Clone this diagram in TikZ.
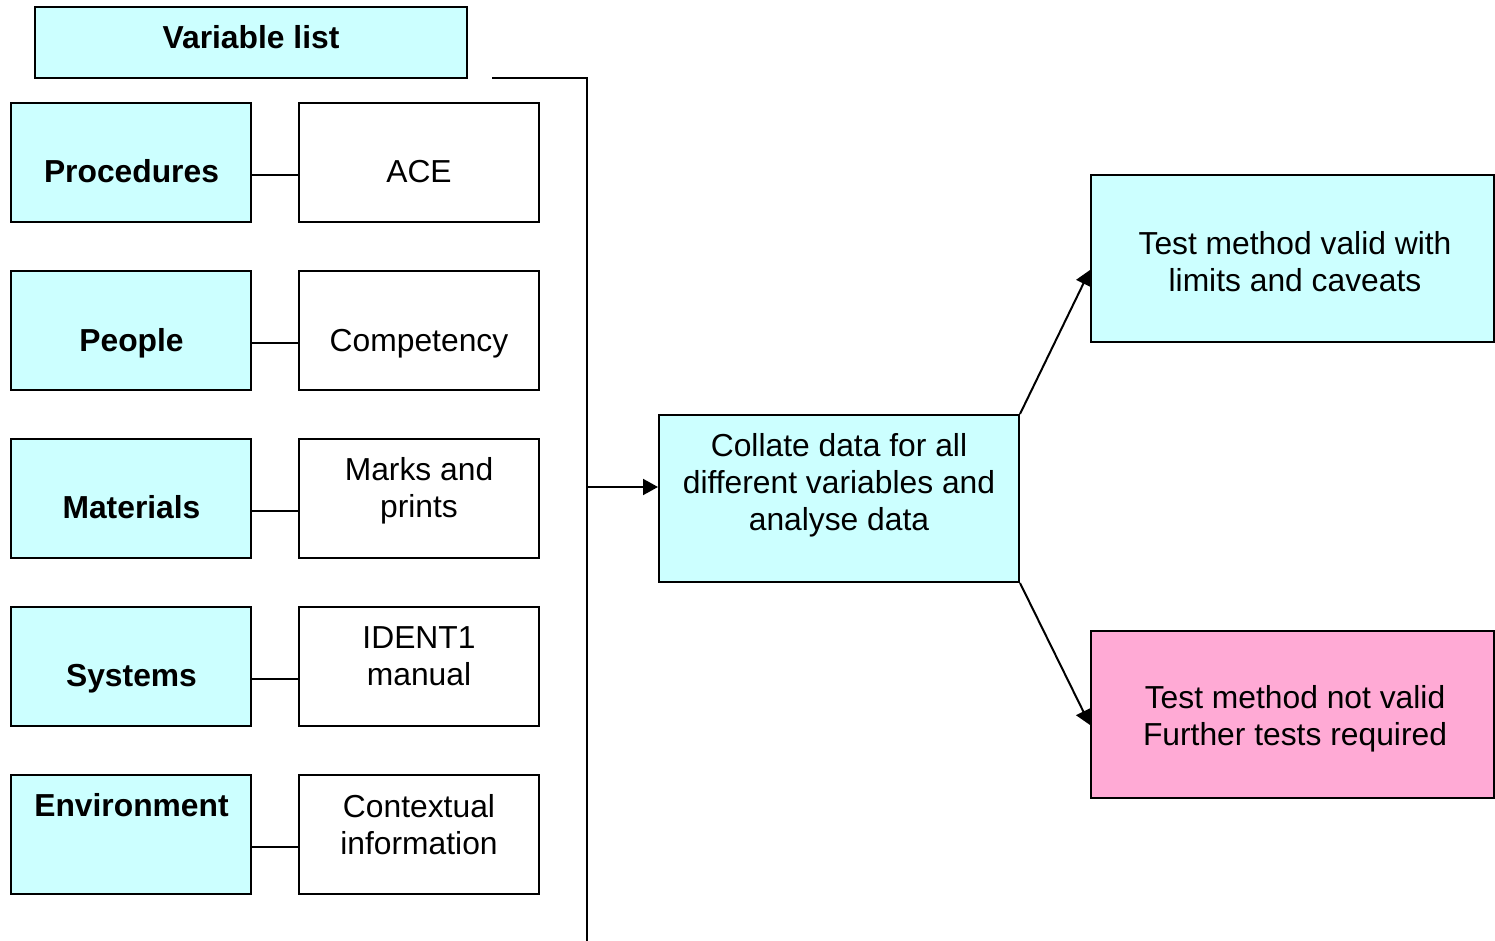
\documentclass[tikz,border=0pt]{standalone}
\usepackage{fontspec}
\setmainfont{Liberation Sans}
\usetikzlibrary{arrows.meta}
\definecolor{lcyan}{RGB}{204,255,255}
\definecolor{lpink}{RGB}{255,170,213}
\begin{document}
\begin{tikzpicture}[x=0.5pt,y=-0.5pt,
  box/.style={draw=black,line width=1pt,inner sep=0pt,rectangle},
  sbox/.style={box,minimum width=120pt,minimum height=59.5pt},
  bigbox/.style={box,minimum width=201.5pt,minimum height=83.5pt},
  txt/.style={inner sep=0pt,align=center,font=\fontsize{15.9}{18.6}\selectfont},
  btxt/.style={txt,font=\fontsize{15.9}{18.6}\selectfont\bfseries},
  conn/.style={line width=1pt},
  arr/.style={line width=1pt,-{Triangle[length=7.5pt,width=8pt]}}]
\useasboundingbox (0,0) rectangle (1495,941);
% variable list
\node[box,fill=lcyan,minimum width=216pt,minimum height=35.5pt] (vl) at (251,42.5) {};
\node[btxt,anchor=base] (vlt) at (251,49) {Variable list};
% left column
\node[sbox,fill=lcyan] (proc) at (131,162.5) {};
\node[sbox,fill=lcyan] (peop) at (131,330.5) {};
\node[sbox,fill=lcyan] (mat) at (131,498.5) {};
\node[sbox,fill=lcyan] (sys) at (131,666.5) {};
\node[sbox,fill=lcyan] (env) at (131,834.5) {};
\node[btxt,anchor=base] (proct) at (131.5,183) {Procedures};
\node[btxt,anchor=base] (peopt) at (131.5,351) {People};
\node[btxt,anchor=base] (matt) at (131.5,518) {Materials};
\node[btxt,anchor=base] (syst) at (131.5,686.5) {Systems};
\node[btxt,anchor=base] (envt) at (131.5,816.5) {Environment};
% right column
\node[sbox] (ace) at (419,162.5) {};
\node[sbox] (comp) at (419,330.5) {};
\node[sbox] (mark) at (419,498.5) {};
\node[sbox] (ident) at (419,666.5) {};
\node[sbox] (ctx) at (419,834.5) {};
\node[txt,anchor=base] (acet) at (419,182.5) {ACE};
\node[txt,anchor=base] (compt) at (419,351) {Competency};
\node[txt] (markt) at (419,490.5) {Marks and\\prints};
\node[txt] (identt) at (419,656.5) {IDENT1\\manual};
\node[txt] (ctxt) at (419,824.5) {Contextual\\information};
% row connectors
\draw[conn] (proc.east |- 0,175) -- (ace.west |- 0,175);
\draw[conn] (peop.east |- 0,343) -- (comp.west |- 0,343);
\draw[conn] (mat.east |- 0,511) -- (mark.west |- 0,511);
\draw[conn] (sys.east |- 0,679) -- (ident.west |- 0,679);
\draw[conn] (env.east |- 0,847) -- (ctx.west |- 0,847);
% bracket
\coordinate (bt) at (492,78);
\coordinate (bc) at (587,78);
\coordinate (bb) at (587,950);
\draw[conn] (bt) -- (bc) -- (bb);
% collate
\node[box,fill=lcyan,minimum width=180pt,minimum height=83.5pt] (col) at (839,498.5) {};
\node[txt] (colt) at (839,485) {Collate data for all\\different variables and\\analyse data};
\draw[arr] (bc |- 0,487) -- (col.west |- 0,487);
% outcomes
\node[bigbox,fill=lcyan] (valid) at (1292.5,258.5) {};
\node[txt] (validt) at (1295,262) {Test method valid with\\limits and caveats};
\node[bigbox,fill=lpink] (notv) at (1292.5,714.5) {};
\node[txt] (notvt) at (1295,719) {Test method not valid\\Further tests required};
\draw[arr] (col.north east) -- (valid.west |- 0,270);
\draw[arr] (col.south east) -- (notv.west |- 0,725);
\end{tikzpicture}
\end{document}
